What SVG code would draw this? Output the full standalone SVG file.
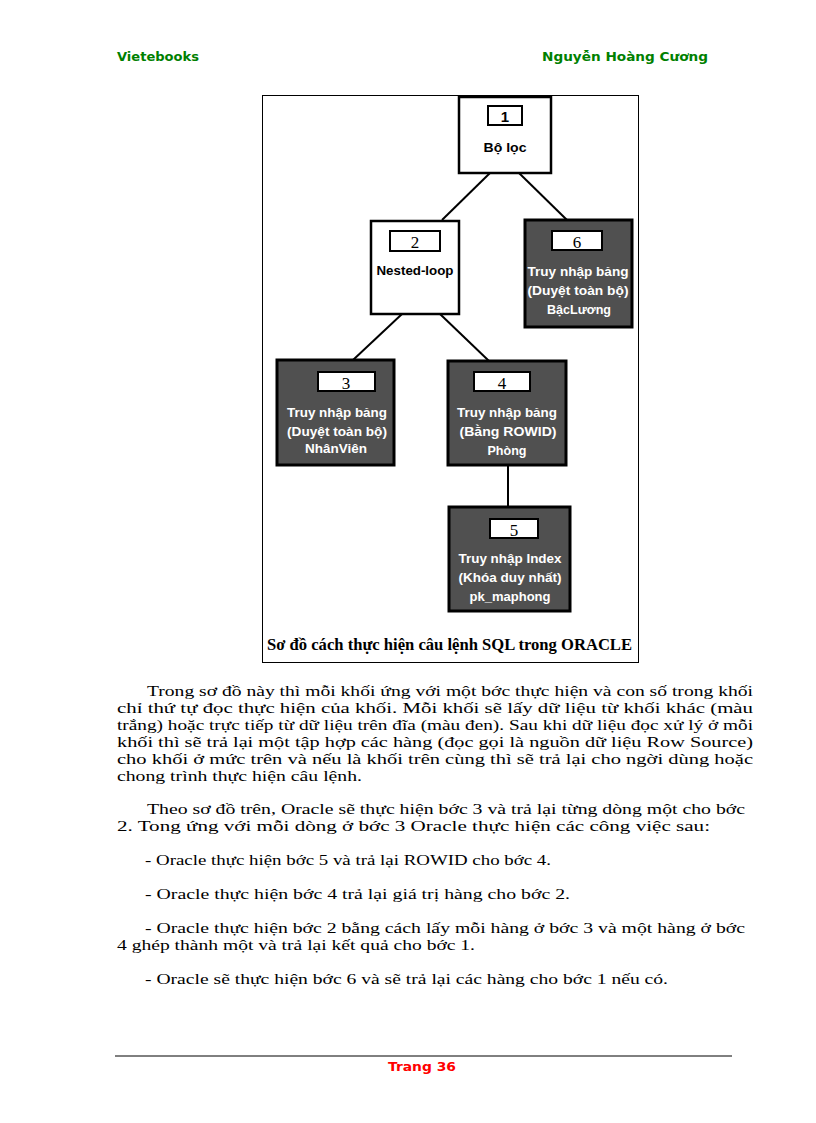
<svg xmlns="http://www.w3.org/2000/svg" width="816" height="1123" viewBox="0 0 816 1123">
<style>
.hdr{font-family:"DejaVu Sans","Liberation Sans",sans-serif;font-size:13px;font-weight:bold;fill:#008000}
.nb{fill:#fff;stroke:#000;stroke-width:2.5}
.nd{fill:#505050;stroke:#000;stroke-width:3}
.lb{fill:#fff;stroke:#000;stroke-width:2}
.num{font-family:"Liberation Serif",serif;font-size:17px;fill:#000;text-anchor:middle}
.numb{font-family:"Liberation Sans",sans-serif;font-size:15px;font-weight:bold;fill:#000;text-anchor:middle}
.tw{font-family:"Liberation Sans",sans-serif;font-size:13px;font-weight:bold;fill:#fff;text-anchor:middle}
.tb{font-family:"Liberation Sans",sans-serif;font-size:13px;font-weight:bold;fill:#000;text-anchor:middle}
.body{font-family:"Liberation Serif",serif;font-size:15.5px;fill:#000}
.con{stroke:#000;stroke-width:2;fill:none}
</style>
<rect width="816" height="1123" fill="#fff"/>
<text class="hdr" x="117" y="61" textLength="82" lengthAdjust="spacingAndGlyphs">Vietebooks</text>
<text class="hdr" x="542" y="61" textLength="166" lengthAdjust="spacingAndGlyphs">Nguyễn Hoàng Cương</text>

<rect x="262.5" y="95.5" width="376" height="567" fill="none" stroke="#000" stroke-width="1"/>

<g id="connectors">
<line class="con" x1="490" y1="173" x2="442" y2="220"/>
<line class="con" x1="519" y1="173" x2="567" y2="220"/>
<line class="con" x1="402" y1="314" x2="353" y2="360"/>
<line class="con" x1="440" y1="314" x2="489" y2="361"/>
<line class="con" x1="508" y1="465" x2="508" y2="507"/>
</g>

<g id="node1">
<rect class="nb" x="459" y="97" width="92" height="76"/>
<rect class="lb" x="488" y="106" width="34" height="19"/>
<text class="numb" x="505" y="122">1</text>
<text class="tb" x="505" y="152" textLength="43" lengthAdjust="spacingAndGlyphs">Bộ lọc</text>
</g>
<g id="node2">
<rect class="nb" x="371" y="221" width="88" height="93"/>
<rect class="lb" x="390" y="231" width="50" height="20"/>
<text class="num" x="415" y="248">2</text>
<text class="tb" x="415" y="275" textLength="77" lengthAdjust="spacingAndGlyphs">Nested-loop</text>
</g>
<g id="node6">
<rect class="nd" x="525" y="220" width="107" height="107"/>
<rect class="lb" x="552" y="231" width="50" height="19"/>
<text class="num" x="577" y="248">6</text>
<text class="tw" x="578" y="276" textLength="101" lengthAdjust="spacingAndGlyphs">Truy nhập bảng</text>
<text class="tw" x="578" y="295" textLength="101" lengthAdjust="spacingAndGlyphs">(Duyệt toàn bộ)</text>
<text class="tw" x="579" y="314" textLength="64" lengthAdjust="spacingAndGlyphs">BậcLương</text>
</g>
<g id="node3">
<rect class="nd" x="277" y="360" width="117" height="105"/>
<rect class="lb" x="318" y="372" width="57" height="19"/>
<text class="num" x="346" y="389">3</text>
<text class="tw" x="337" y="417" textLength="100" lengthAdjust="spacingAndGlyphs">Truy nhập bảng</text>
<text class="tw" x="337" y="436" textLength="100" lengthAdjust="spacingAndGlyphs">(Duyệt toàn bộ)</text>
<text class="tw" x="336" y="453" textLength="62" lengthAdjust="spacingAndGlyphs">NhânViên</text>
</g>
<g id="node4">
<rect class="nd" x="448" y="361" width="118" height="104"/>
<rect class="lb" x="474" y="372" width="56" height="19"/>
<text class="num" x="502" y="389">4</text>
<text class="tw" x="507" y="417" textLength="100" lengthAdjust="spacingAndGlyphs">Truy nhập bảng</text>
<text class="tw" x="508" y="436" textLength="97" lengthAdjust="spacingAndGlyphs">(Bằng ROWID)</text>
<text class="tw" x="507" y="455" textLength="39" lengthAdjust="spacingAndGlyphs">Phòng</text>
</g>
<g id="node5">
<rect class="nd" x="449" y="507" width="121" height="104"/>
<rect class="lb" x="490" y="519" width="48" height="19"/>
<text class="num" x="514" y="536">5</text>
<text class="tw" x="510" y="563" textLength="103" lengthAdjust="spacingAndGlyphs">Truy nhập Index</text>
<text class="tw" x="510" y="582" textLength="103" lengthAdjust="spacingAndGlyphs">(Khóa duy nhất)</text>
<text class="tw" x="510" y="601" textLength="81" lengthAdjust="spacingAndGlyphs">pk_maphong</text>
</g>

<text x="267" y="650" font-family="Liberation Serif,serif" font-size="16" font-weight="bold" textLength="365" lengthAdjust="spacingAndGlyphs">Sơ đồ cách thực hiện câu lệnh SQL trong ORACLE</text>

<g class="body">
<text x="147" y="696" textLength="606" lengthAdjust="spacingAndGlyphs">Trong sơ đồ này thì mỗi khối ứng với một bớc   thực hiện và con số trong khối</text>
<text x="117" y="713" textLength="636" lengthAdjust="spacingAndGlyphs">chỉ thứ tự đọc   thực hiện của khối. Mỗi khối sẽ lấy dữ liệu từ khối khác (màu</text>
<text x="117" y="730" textLength="636" lengthAdjust="spacingAndGlyphs">trắng) hoặc trực tiếp từ dữ liệu trên đĩa (màu đen). Sau khi dữ liệu đọc   xử lý ở mỗi</text>
<text x="117" y="747" textLength="636" lengthAdjust="spacingAndGlyphs">khối thì sẽ trả lại một tập hợp các hàng (đọc   gọi là nguồn dữ liệu  Row Source)</text>
<text x="117" y="764" textLength="636" lengthAdjust="spacingAndGlyphs">cho khối ở mức trên và nếu là khối trên cùng thì sẽ trả lại cho ngời   dùng hoặc</text>
<text x="117" y="781" textLength="245" lengthAdjust="spacingAndGlyphs">chong   trình thực hiện câu lệnh.</text>
<text x="147" y="814" textLength="598" lengthAdjust="spacingAndGlyphs">Theo sơ đồ trên, Oracle sẽ thực hiện bớc   3 và trả lại từng dòng một cho bớc</text>
<text x="117" y="831" textLength="593" lengthAdjust="spacingAndGlyphs">2. Tong   ứng với mỗi dòng ở bớc   3 Oracle thực hiện các công việc sau:</text>
<text x="145" y="865" textLength="406" lengthAdjust="spacingAndGlyphs">- Oracle thực hiện bớc   5 và trả lại ROWID cho bớc   4.</text>
<text x="145" y="899" textLength="425" lengthAdjust="spacingAndGlyphs">- Oracle thực hiện bớc   4 trả lại giá trị hàng cho bớc   2.</text>
<text x="145" y="933" textLength="600" lengthAdjust="spacingAndGlyphs">- Oracle thực hiện bớc   2 bằng cách lấy mỗi hàng ở bớc   3 và một hàng ở bớc</text>
<text x="117" y="950" textLength="358" lengthAdjust="spacingAndGlyphs">4 ghép thành một và trả lại kết quả cho bớc   1.</text>
<text x="145" y="984" textLength="523" lengthAdjust="spacingAndGlyphs">- Oracle sẽ thực hiện bớc   6 và sẽ trả lại các hàng cho bớc   1 nếu có.</text>
</g>

<line x1="115" y1="1056" x2="732" y2="1056" stroke="#000" stroke-width="1"/>
<text x="422" y="1071" font-family="DejaVu Sans,Liberation Sans,sans-serif" font-size="13" font-weight="bold" fill="#ff0000" text-anchor="middle" textLength="68" lengthAdjust="spacingAndGlyphs">Trang 36</text>
</svg>
